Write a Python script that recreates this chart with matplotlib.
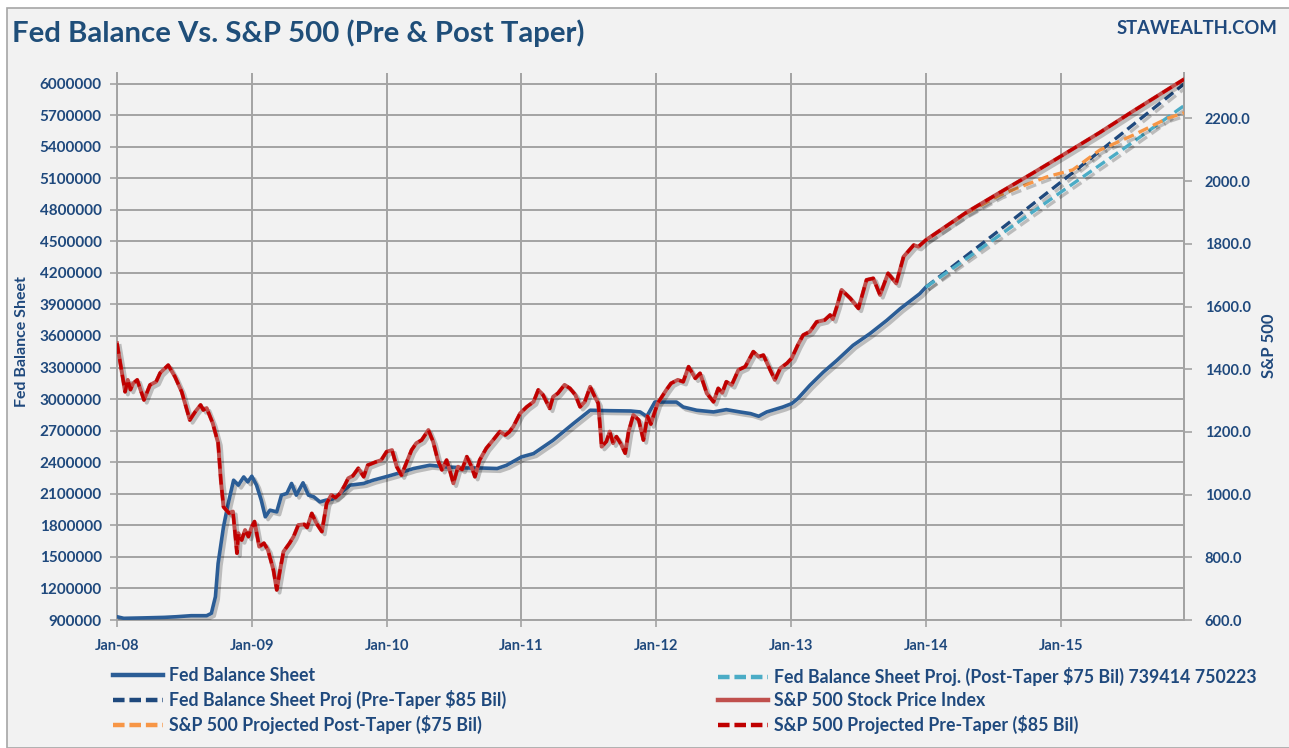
import matplotlib
matplotlib.use('Agg')
import matplotlib.pyplot as plt
from matplotlib import patheffects as pe
from matplotlib.patches import Rectangle
from matplotlib.lines import Line2D

# ---------------- data ----------------
fed_t = [2008.00, 2008.05, 2008.20, 2008.35, 2008.44, 2008.55, 2008.665, 2008.70, 2008.73,
         2008.75, 2008.79, 2008.825, 2008.865, 2008.90, 2008.94, 2008.97, 2009.00, 2009.035,
         2009.07, 2009.10, 2009.135, 2009.185, 2009.22, 2009.26, 2009.295, 2009.33, 2009.38,
         2009.42, 2009.46, 2009.505, 2009.55, 2009.60, 2009.655, 2009.73, 2009.83, 2009.90,
         2010.01, 2010.10, 2010.20, 2010.32, 2010.45, 2010.60, 2010.70, 2010.82, 2010.89,
         2011.00, 2011.09, 2011.235, 2011.385, 2011.51, 2011.65, 2011.81, 2011.88, 2011.93,
         2011.99, 2012.07, 2012.15, 2012.20, 2012.30, 2012.425, 2012.52, 2012.62, 2012.70,
         2012.76, 2012.82, 2012.94, 2013.005, 2013.05, 2013.14, 2013.24, 2013.34, 2013.46,
         2013.585, 2013.71, 2013.81, 2013.955, 2014.00]
fed_v = [931000, 916000, 920000, 925000, 931000, 941000, 941000, 963000, 1121000,
         1438000, 1786000, 2008000, 2229000, 2182000, 2260000, 2213000, 2267000, 2182000,
         2039000, 1881000, 1944000, 1928000, 2087000, 2103000, 2198000, 2087000, 2204000,
         2087000, 2071000, 2023000, 2039000, 2050000, 2103000, 2182000, 2198000, 2229000,
         2267000, 2300000, 2340000, 2371000, 2355000, 2345000, 2345000, 2340000, 2371000,
         2450000, 2482000, 2609000, 2767000, 2894000, 2890000, 2887000, 2878000, 2835000,
         2972000, 2972000, 2972000, 2925000, 2894000, 2878000, 2900000, 2878000, 2862000,
         2837000, 2878000, 2925000, 2957000, 3004000, 3131000, 3257000, 3368000, 3511000,
         3622000, 3748000, 3859000, 4002000, 4064000]

spx_t = [2008.00, 2008.06, 2008.08, 2008.10, 2008.12, 2008.15, 2008.20, 2008.245, 2008.29,
         2008.32, 2008.38, 2008.43, 2008.48, 2008.54, 2008.58, 2008.62, 2008.64, 2008.665,
         2008.71, 2008.75, 2008.77, 2008.79, 2008.83, 2008.86, 2008.89, 2008.90, 2008.925,
         2008.95, 2008.975, 2009.00, 2009.02, 2009.055, 2009.09, 2009.12, 2009.16, 2009.185,
         2009.21, 2009.235, 2009.28, 2009.31, 2009.345, 2009.39, 2009.41, 2009.445, 2009.48,
         2009.52, 2009.555, 2009.59, 2009.62, 2009.655, 2009.69, 2009.715, 2009.75, 2009.79,
         2009.83, 2009.86, 2009.925, 2009.96, 2010.00, 2010.04, 2010.075, 2010.11, 2010.15,
         2010.185, 2010.22, 2010.26, 2010.31, 2010.345, 2010.38, 2010.41, 2010.445, 2010.47,
         2010.495, 2010.53, 2010.56, 2010.595, 2010.63, 2010.655, 2010.69, 2010.74, 2010.79,
         2010.84, 2010.88, 2010.91, 2010.94, 2010.99, 2011.04, 2011.09, 2011.125, 2011.16,
         2011.21, 2011.235, 2011.27, 2011.32, 2011.36, 2011.40, 2011.435, 2011.47, 2011.51,
         2011.545, 2011.57, 2011.595, 2011.63, 2011.655, 2011.68, 2011.705, 2011.74, 2011.77,
         2011.795, 2011.83, 2011.87, 2011.905, 2011.935, 2011.96, 2012.01, 2012.075, 2012.11,
         2012.16, 2012.20, 2012.24, 2012.29, 2012.325, 2012.375, 2012.425, 2012.46, 2012.49,
         2012.52, 2012.56, 2012.61, 2012.66, 2012.72, 2012.76, 2012.795, 2012.845, 2012.88,
         2012.92, 2012.97, 2013.005, 2013.05, 2013.09, 2013.14, 2013.19, 2013.25, 2013.29,
         2013.31, 2013.34, 2013.375, 2013.44, 2013.50, 2013.56, 2013.61, 2013.66, 2013.72,
         2013.78, 2013.835, 2013.91, 2013.945, 2014.00]
spx_v = [1483, 1328, 1366, 1335, 1355, 1366, 1302, 1350, 1360,
         1388, 1413, 1376, 1328, 1238, 1264, 1286, 1270, 1276,
         1228, 1165, 1047, 961, 941, 946, 813, 877, 855,
         887, 866, 898, 914, 834, 845, 823, 760, 696,
         760, 818, 845, 866, 903, 905, 895, 940, 908,
         882, 972, 999, 990, 1004, 1030, 1052, 1060, 1084,
         1057, 1094, 1105, 1110, 1137, 1142, 1089, 1062, 1105,
         1142, 1164, 1174, 1206, 1169, 1110, 1079, 1110, 1075,
         1036, 1089, 1080, 1121, 1089, 1057, 1110, 1148, 1174,
         1201, 1190, 1200, 1217, 1259, 1280, 1296, 1334, 1318,
         1275, 1312, 1323, 1350, 1339, 1318, 1280, 1296, 1344,
         1312, 1291, 1153, 1169, 1201, 1164, 1185, 1160, 1132,
         1201, 1254, 1238, 1174, 1250, 1225, 1291, 1334, 1355,
         1366, 1360, 1408, 1371, 1387, 1323, 1296, 1339, 1325,
         1360, 1350, 1398, 1408, 1456, 1440, 1445, 1398, 1366,
         1403, 1419, 1435, 1477, 1509, 1520, 1551, 1557, 1573,
         1560, 1600, 1653, 1626, 1594, 1685, 1690, 1637, 1706,
         1674, 1759, 1796, 1791, 1812]

proj_t = [2014.00, 2014.50, 2015.00, 2015.50, 2015.915]
fed_pre_v = [4064000, 4560000, 5061000, 5570000, 5995000]
fed_post_v = [4064000, 4515000, 4966000, 5410000, 5789000]

spx_pre_t = [2014.30, 2014.55, 2014.795, 2015.00, 2015.29, 2015.54, 2015.915]
spx_pre_v = [1900, 1964, 2026, 2079, 2155, 2224, 2325]

spx_post_t = [2014.00, 2014.30, 2014.55, 2014.80, 2014.90, 2015.09, 2015.29, 2015.54,
              2015.79, 2015.915]
spx_post_v = [1812, 1897, 1956, 1998, 2014, 2036, 2099, 2147, 2200, 2218]

year_ticks = [2008, 2009, 2010, 2011, 2012, 2013, 2014, 2015]
year_labels = ['Jan-08', 'Jan-09', 'Jan-10', 'Jan-11', 'Jan-12', 'Jan-13', 'Jan-14', 'Jan-15']
fed_ticks = list(range(900000, 6000001, 300000))
spx_ticks = list(range(600, 2201, 200))

# ---------------- style ----------------
FONT = ['Lato', 'DejaVu Sans']
plt.rcParams['font.family'] = FONT
TXT = '#1F497D'
GRID = '#A3A3A3'
C_FED = '#2B5D96'
C_FED_PRE = '#1F497D'
C_FED_POST = '#4BACC6'
C_SPX = '#C0504D'
C_SPX_PRE = '#C00000'
C_SPX_POST = '#F79646'

W, H = 1289, 748
fig = plt.figure(figsize=(W / 100, H / 100), dpi=100, facecolor='white')
fig.patches.append(Rectangle((7 / W, 0), 1, 1 - 8 / H, transform=fig.transFigure,
                             facecolor='#F2F2F2', edgecolor='#A6A6A6', lw=1.2, zorder=-10))

L, R, T, B = 117, 1184, 73, 620
ax = fig.add_axes([L / W, 1 - B / H, (R - L) / W, (B - T) / H])
ax.set_facecolor('#F2F2F2')
ax2 = ax.twinx()
ax2.patch.set_visible(False)

shadow = [pe.SimpleLineShadow(offset=(2, -2), shadow_color='black', alpha=0.22), pe.Normal()]

# Fed balance sheet
ax.plot(fed_t, fed_v, color=C_FED, lw=2.6, solid_capstyle='round', path_effects=shadow, zorder=3)
ax.plot(proj_t, fed_pre_v, color=C_FED_PRE, lw=2.4, dashes=(3.2, 1.6), path_effects=shadow, zorder=4)
ax.plot(proj_t, fed_post_v, color=C_FED_POST, lw=2.4, dashes=(3.2, 1.6), path_effects=shadow, zorder=4)

# S&P 500
spx_all_t = spx_t + spx_pre_t
spx_all_v = spx_v + spx_pre_v
ax2.plot(spx_post_t, spx_post_v, color=C_SPX_POST, lw=2.4, dashes=(3.2, 1.6), path_effects=shadow, zorder=3)
ax2.plot(spx_all_t, spx_all_v, color=C_SPX, lw=2.8, path_effects=shadow, zorder=4)
ax2.plot(spx_all_t, spx_all_v, color=C_SPX_PRE, lw=2.4, dashes=(3.2, 1.6), zorder=5)

ax.set_xlim(2008.0, 2015.915)
ax.set_ylim(900000, 6100000)
ax2.set_ylim(600, 2345)

ax.set_xticks(year_ticks)
ax.set_xticklabels(year_labels)
ax.set_yticks(fed_ticks)
ax.set_yticklabels([str(v) for v in fed_ticks])
ax2.set_yticks(spx_ticks)
ax2.set_yticklabels(['%.1f' % v for v in spx_ticks])

ax.grid(True, color=GRID, lw=1.4)
ax.set_axisbelow(True)
for a in (ax, ax2):
    a.spines['top'].set_visible(False)
    for s in ('left', 'right', 'bottom'):
        a.spines[s].set_color(GRID)
        a.spines[s].set_linewidth(1.4)
ax2.spines['left'].set_visible(False)
ax2.spines['bottom'].set_visible(False)

ax.tick_params(axis='y', length=5, width=1.2, color=GRID, pad=6, labelsize=11, labelcolor=TXT)
ax.tick_params(axis='x', length=5, width=1.2, color=GRID, pad=9, labelsize=10.5, labelcolor=TXT)
ax2.tick_params(axis='y', length=6, width=1.2, color=GRID, pad=9, labelsize=10.5, labelcolor=TXT)
for lab in ax.get_xticklabels() + ax.get_yticklabels() + ax2.get_yticklabels():
    lab.set_fontweight('bold')

# titles and labels
fig.text(12 / W, 1 - 33 / H, 'Fed Balance Vs. S&P 500 (Pre & Post Taper)', fontsize=21.2,
         fontweight='bold', color='#1F4E79', ha='left', va='center')
fig.text(1277 / W, 1 - 28 / H, 'STAWEALTH.COM', fontsize=13.3, fontweight='bold',
         color=TXT, ha='right', va='center')
fig.text(22 / W, 1 - 342 / H, 'Fed Balance Sheet', fontsize=11.5, fontweight='bold',
         color=TXT, rotation=90, ha='center', va='center')
fig.text(1269 / W, 1 - 346 / H, 'S&P 500', fontsize=12, fontweight='bold',
         color=TXT, rotation=90, ha='center', va='center')

# legend (two columns)
def h(color, dashed, lw=3.2):
    if dashed:
        return Line2D([], [], color=color, lw=lw, dashes=(2.6, 1.1))
    return Line2D([], [], color=color, lw=lw)

col1 = [(h(C_FED, False), 'Fed Balance Sheet'),
        (h(C_FED_PRE, True), 'Fed Balance Sheet Proj (Pre-Taper \\$85 Bil)'),
        (h(C_SPX_POST, True), 'S&P 500 Projected Post-Taper (\\$75 Bil)')]
col2 = [(h(C_FED_POST, True), 'Fed Balance Sheet Proj. (Post-Taper \\$75 Bil) 739414 750223'),
        (h(C_SPX, False), 'S&P 500 Stock Price Index'),
        (h(C_SPX_PRE, True), 'S&P 500 Projected Pre-Taper (\\$85 Bil)')]
leg_kw = dict(loc='upper left', frameon=False, handlelength=2.8, handletextpad=0.35,
              labelspacing=0.33, borderaxespad=0, borderpad=0,
              prop=dict(family=FONT, weight='bold', size=12.8))
for cols, x0 in ((col1, 113), (col2, 718)):
    lg = fig.legend([c[0] for c in cols], [c[1] for c in cols],
                    bbox_to_anchor=(x0 / W, 1 - 667 / H), **leg_kw)
    for t in lg.get_texts():
        t.set_color(TXT)

fig.savefig('out.png', dpi=100, facecolor=fig.get_facecolor())
